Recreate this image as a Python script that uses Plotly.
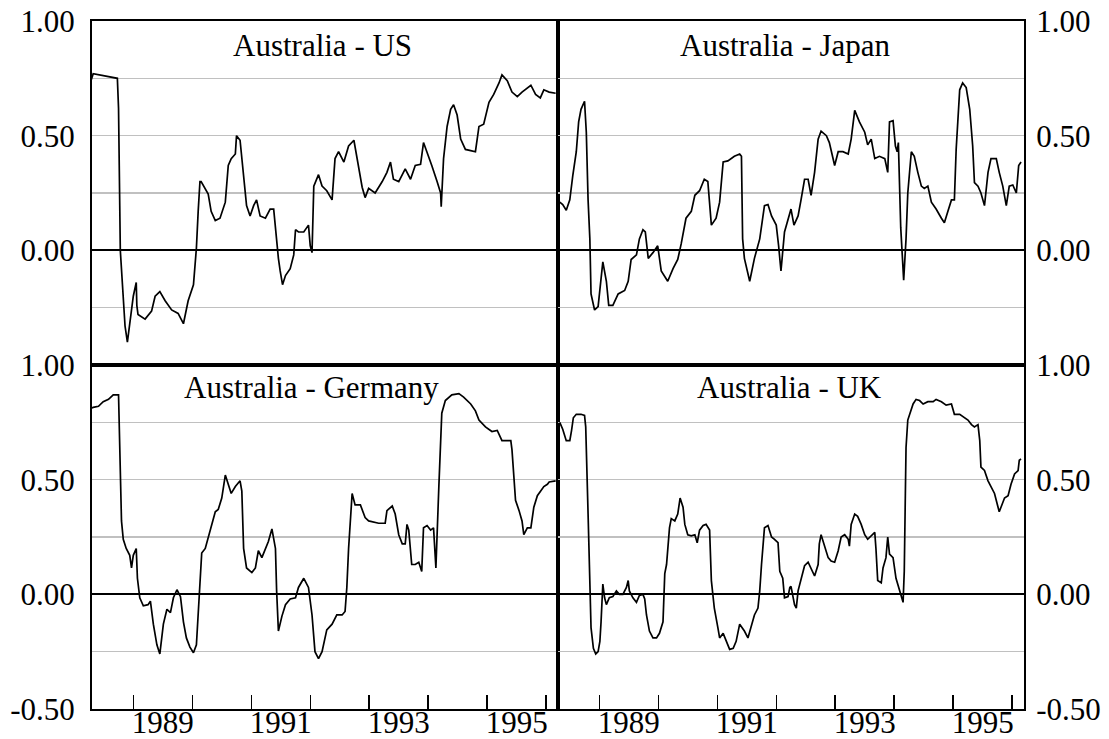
import plotly.graph_objects as go
from plotly.subplots import make_subplots

# ---------------- data (decimal years, correlation values) ----------------
us_t = [1988.27, 1988.32, 1988.73, 1988.75, 1988.78, 1988.80, 1988.83, 1988.86, 1988.90, 1988.97,
        1989.00, 1989.05, 1989.06, 1989.08, 1989.20, 1989.31, 1989.37, 1989.45, 1989.54, 1989.65,
        1989.76, 1989.85, 1989.93, 1990.02, 1990.07, 1990.10, 1990.13, 1990.15, 1990.22, 1990.27,
        1990.32, 1990.39, 1990.47, 1990.56, 1990.61, 1990.66, 1990.73, 1990.75, 1990.81, 1990.87,
        1990.92, 1990.98, 1991.04, 1991.09, 1991.15, 1991.24, 1991.32, 1991.38, 1991.42, 1991.44,
        1991.46, 1991.49, 1991.53, 1991.58, 1991.66, 1991.72, 1991.75, 1991.80, 1991.89, 1991.97,
        1992.00, 1992.03, 1992.06, 1992.14, 1992.20, 1992.28, 1992.37, 1992.42, 1992.48, 1992.57,
        1992.65, 1992.74, 1992.79, 1992.88, 1992.93, 1992.99, 1993.10, 1993.22, 1993.30, 1993.36,
        1993.41, 1993.50, 1993.61, 1993.70, 1993.78, 1993.87, 1993.92, 1993.98, 1994.06, 1994.15,
        1994.21, 1994.22, 1994.26, 1994.32, 1994.38, 1994.43, 1994.49, 1994.55, 1994.63, 1994.72,
        1994.80, 1994.86, 1994.94, 1995.03, 1995.11, 1995.20, 1995.25, 1995.34, 1995.42, 1995.51,
        1995.59, 1995.74, 1995.82, 1995.90, 1995.96, 1996.05, 1996.16]
us_v = [0.73, 0.77, 0.75, 0.62, 0.00, -0.08, -0.25, -0.33, -0.40, -0.24,
        -0.20, -0.14, -0.24, -0.28, -0.30, -0.265, -0.20, -0.18, -0.22, -0.26,
        -0.275, -0.32, -0.22, -0.15, 0.01, 0.17, 0.30, 0.30, 0.27, 0.245,
        0.17, 0.13, 0.14, 0.21, 0.37, 0.40, 0.42, 0.50, 0.48, 0.31,
        0.195, 0.15, 0.195, 0.22, 0.15, 0.14, 0.18, 0.18, 0.065, -0.01,
        -0.035, -0.09, -0.15, -0.11, -0.08, -0.02, 0.09, 0.08, 0.08, 0.11,
        0.02, -0.01, 0.28, 0.33, 0.28, 0.26, 0.22, 0.40, 0.43, 0.385,
        0.455, 0.48, 0.40, 0.275, 0.23, 0.27, 0.25, 0.30, 0.34, 0.385,
        0.31, 0.30, 0.355, 0.31, 0.37, 0.375, 0.47, 0.43, 0.37, 0.30,
        0.25, 0.19, 0.40, 0.54, 0.615, 0.635, 0.59, 0.485, 0.44, 0.435,
        0.43, 0.54, 0.55, 0.645, 0.68, 0.73, 0.765, 0.74, 0.69, 0.67,
        0.69, 0.72, 0.68, 0.665, 0.70, 0.69, 0.685]

jp_t = [1988.33, 1988.38, 1988.44, 1988.50, 1988.55, 1988.61, 1988.65, 1988.69, 1988.75, 1988.78,
        1988.81, 1988.84, 1988.86, 1988.92, 1988.98, 1989.02, 1989.06, 1989.12, 1989.16, 1989.23,
        1989.32, 1989.43, 1989.49, 1989.54, 1989.63, 1989.68, 1989.74, 1989.78, 1989.83, 1989.91,
        1989.99, 1990.05, 1990.16, 1990.25, 1990.33, 1990.39, 1990.47, 1990.56, 1990.62, 1990.70,
        1990.78, 1990.84, 1990.87, 1990.90, 1990.98, 1991.04, 1991.10, 1991.18, 1991.29, 1991.38,
        1991.41, 1991.43, 1991.46, 1991.55, 1991.63, 1991.72, 1991.80, 1991.86, 1991.92, 1992.00,
        1992.04, 1992.08, 1992.14, 1992.20, 1992.25, 1992.30, 1992.37, 1992.42, 1992.48, 1992.54,
        1992.59, 1992.65, 1992.71, 1992.76, 1992.85, 1992.90, 1992.96, 1992.99, 1993.05, 1993.13,
        1993.22, 1993.27, 1993.33, 1993.41, 1993.50, 1993.55, 1993.61, 1993.67, 1993.75, 1993.84,
        1993.89, 1993.92, 1993.98, 1994.02, 1994.05, 1994.07, 1994.11, 1994.16, 1994.20, 1994.23,
        1994.29, 1994.34, 1994.40, 1994.46, 1994.51, 1994.57, 1994.63, 1994.71, 1994.80, 1994.85,
        1994.91, 1994.97, 1995.02, 1995.05, 1995.11, 1995.16, 1995.22, 1995.28, 1995.33, 1995.36,
        1995.42, 1995.47, 1995.53, 1995.59, 1995.64, 1995.73, 1995.78, 1995.84, 1995.90, 1995.95,
        1996.01, 1996.07, 1996.11, 1996.15]
jp_v = [0.21, 0.20, 0.175, 0.22, 0.325, 0.43, 0.56, 0.615, 0.65, 0.515,
        0.22, 0.05, -0.19, -0.26, -0.245, -0.135, -0.05, -0.135, -0.24, -0.24,
        -0.19, -0.175, -0.135, -0.04, -0.02, 0.05, 0.09, 0.08, -0.035, -0.01,
        0.02, -0.09, -0.135, -0.08, -0.04, 0.03, 0.14, 0.17, 0.24, 0.26,
        0.31, 0.30, 0.22, 0.11, 0.14, 0.21, 0.385, 0.39, 0.41, 0.42,
        0.41, 0.05, -0.035, -0.135, -0.035, 0.05, 0.195, 0.20, 0.15, 0.11,
        0.02, -0.09, 0.08, 0.14, 0.18, 0.11, 0.15, 0.22, 0.31, 0.31,
        0.24, 0.34, 0.485, 0.52, 0.50, 0.47, 0.40, 0.37, 0.43, 0.43,
        0.42, 0.485, 0.61, 0.56, 0.515, 0.46, 0.485, 0.40, 0.41, 0.40,
        0.34, 0.56, 0.565, 0.455, 0.43, 0.47, 0.10, -0.13, 0.05, 0.25,
        0.43, 0.41, 0.34, 0.28, 0.27, 0.28, 0.21, 0.18, 0.14, 0.12,
        0.17, 0.22, 0.22, 0.44, 0.70, 0.73, 0.71, 0.615, 0.455, 0.295,
        0.28, 0.25, 0.195, 0.34, 0.40, 0.40, 0.34, 0.28, 0.195, 0.28,
        0.285, 0.25, 0.37, 0.385]

de_t = [1988.27, 1988.32, 1988.41, 1988.49, 1988.58, 1988.66, 1988.75, 1988.77, 1988.78, 1988.80,
        1988.83, 1988.88, 1988.94, 1988.97, 1989.00, 1989.05, 1989.07, 1989.11, 1989.17, 1989.25,
        1989.29, 1989.34, 1989.40, 1989.45, 1989.51, 1989.57, 1989.63, 1989.68, 1989.74, 1989.80,
        1989.85, 1989.90, 1989.96, 1990.02, 1990.07, 1990.10, 1990.16, 1990.22, 1990.27, 1990.33,
        1990.39, 1990.44, 1990.50, 1990.56, 1990.66, 1990.73, 1990.81, 1990.84, 1990.87, 1990.92,
        1991.01, 1991.07, 1991.12, 1991.18, 1991.24, 1991.29, 1991.35, 1991.41, 1991.43, 1991.46,
        1991.52, 1991.58, 1991.66, 1991.75, 1991.80, 1991.89, 1991.97, 1992.03, 1992.08, 1992.14,
        1992.20, 1992.28, 1992.37, 1992.45, 1992.54, 1992.59, 1992.62, 1992.65, 1992.71, 1992.76,
        1992.85, 1992.93, 1992.99, 1993.16, 1993.27, 1993.30, 1993.39, 1993.44, 1993.50, 1993.56,
        1993.61, 1993.64, 1993.67, 1993.72, 1993.78, 1993.84, 1993.89, 1993.92, 1993.98, 1994.04,
        1994.09, 1994.13, 1994.18, 1994.22, 1994.23, 1994.29, 1994.40, 1994.52, 1994.60, 1994.72,
        1994.80, 1994.86, 1994.97, 1995.08, 1995.17, 1995.25, 1995.34, 1995.40, 1995.42, 1995.45,
        1995.48, 1995.54, 1995.59, 1995.62, 1995.68, 1995.74, 1995.76, 1995.79, 1995.85, 1995.90,
        1995.96, 1996.02, 1996.05, 1996.16]
de_v = [0.81, 0.815, 0.82, 0.84, 0.85, 0.87, 0.87, 0.67, 0.45, 0.32,
        0.24, 0.20, 0.17, 0.115, 0.17, 0.20, 0.07, -0.015, -0.05, -0.045,
        -0.03, -0.13, -0.22, -0.26, -0.13, -0.065, -0.08, -0.015, 0.02, -0.01,
        -0.12, -0.19, -0.23, -0.255, -0.22, -0.09, 0.18, 0.20, 0.25, 0.30,
        0.36, 0.37, 0.42, 0.52, 0.44, 0.47, 0.495, 0.45, 0.20, 0.115,
        0.095, 0.115, 0.19, 0.16, 0.20, 0.23, 0.285, 0.20, 0.015, -0.16,
        -0.095, -0.045, -0.02, -0.015, 0.03, 0.07, 0.03, -0.09, -0.25, -0.28,
        -0.25, -0.155, -0.13, -0.09, -0.09, -0.075, 0.03, 0.20, 0.44, 0.39,
        0.39, 0.335, 0.32, 0.31, 0.31, 0.365, 0.385, 0.35, 0.26, 0.22,
        0.22, 0.305, 0.28, 0.13, 0.13, 0.14, 0.10, 0.29, 0.30, 0.28,
        0.29, 0.115, 0.47, 0.70, 0.79, 0.845, 0.87, 0.875, 0.86, 0.83,
        0.80, 0.76, 0.73, 0.71, 0.715, 0.67, 0.67, 0.67, 0.63, 0.50,
        0.41, 0.365, 0.32, 0.26, 0.29, 0.29, 0.32, 0.38, 0.43, 0.45,
        0.47, 0.48, 0.49, 0.495]

uk_t = [1988.33, 1988.38, 1988.44, 1988.50, 1988.53, 1988.56, 1988.61, 1988.69, 1988.75, 1988.77,
        1988.81, 1988.84, 1988.86, 1988.90, 1988.94, 1988.98, 1989.01, 1989.03, 1989.06, 1989.09,
        1989.12, 1989.17, 1989.23, 1989.29, 1989.34, 1989.40, 1989.46, 1989.49, 1989.51, 1989.57,
        1989.63, 1989.68, 1989.74, 1989.77, 1989.80, 1989.85, 1989.91, 1989.97, 1990.02, 1990.08,
        1990.11, 1990.14, 1990.16, 1990.19, 1990.22, 1990.28, 1990.33, 1990.37, 1990.42, 1990.45,
        1990.50, 1990.56, 1990.62, 1990.66, 1990.70, 1990.76, 1990.81, 1990.87, 1990.90, 1990.95,
        1991.01, 1991.04, 1991.10, 1991.15, 1991.21, 1991.27, 1991.32, 1991.38, 1991.46, 1991.52,
        1991.58, 1991.63, 1991.69, 1991.72, 1991.75, 1991.80, 1991.86, 1991.92, 1991.97, 1992.03,
        1992.06, 1992.11, 1992.14, 1992.20, 1992.23, 1992.25, 1992.31, 1992.34, 1992.37, 1992.42,
        1992.48, 1992.54, 1992.59, 1992.65, 1992.71, 1992.73, 1992.76, 1992.82, 1992.88, 1992.93,
        1992.99, 1993.05, 1993.10, 1993.16, 1993.22, 1993.24, 1993.27, 1993.33, 1993.38, 1993.44,
        1993.50, 1993.55, 1993.61, 1993.67, 1993.69, 1993.72, 1993.78, 1993.81, 1993.86, 1993.89,
        1993.92, 1993.98, 1994.03, 1994.09, 1994.12, 1994.15, 1994.17, 1994.19, 1994.20, 1994.23,
        1994.26, 1994.32, 1994.37, 1994.43, 1994.49, 1994.57, 1994.66, 1994.71, 1994.80, 1994.88,
        1994.97, 1995.02, 1995.11, 1995.19, 1995.25, 1995.31, 1995.36, 1995.42, 1995.45, 1995.47,
        1995.53, 1995.59, 1995.64, 1995.70, 1995.76, 1995.78, 1995.81, 1995.87, 1995.93, 1995.98,
        1996.04, 1996.10, 1996.12, 1996.15]
uk_v = [0.75, 0.72, 0.67, 0.67, 0.715, 0.77, 0.785, 0.785, 0.78, 0.73,
        0.35, 0.07, -0.145, -0.235, -0.26, -0.25, -0.205, -0.12, 0.045, -0.015,
        -0.045, -0.015, -0.01, 0.015, 0.00, 0.00, 0.03, 0.06, 0.015, -0.015,
        -0.035, -0.005, 0.00, -0.02, -0.09, -0.16, -0.19, -0.19, -0.17, -0.12,
        0.09, 0.13, 0.20, 0.29, 0.33, 0.32, 0.35, 0.42, 0.38, 0.305,
        0.26, 0.255, 0.26, 0.225, 0.28, 0.30, 0.305, 0.28, 0.06, -0.06,
        -0.145, -0.19, -0.17, -0.205, -0.24, -0.235, -0.205, -0.13, -0.16, -0.19,
        -0.13, -0.09, -0.06, 0.015, 0.13, 0.29, 0.30, 0.25, 0.24, 0.225,
        0.10, 0.07, -0.015, -0.01, 0.03, 0.035, -0.045, -0.06, 0.015, 0.07,
        0.125, 0.14, 0.115, 0.08, 0.13, 0.22, 0.26, 0.21, 0.16, 0.145,
        0.14, 0.19, 0.25, 0.26, 0.24, 0.21, 0.305, 0.35, 0.34, 0.305,
        0.26, 0.24, 0.255, 0.27, 0.20, 0.06, 0.05, 0.115, 0.16, 0.25,
        0.175, 0.16, 0.07, 0.02, -0.01, -0.035, 0.10, 0.42, 0.64, 0.76,
        0.785, 0.83, 0.85, 0.845, 0.83, 0.84, 0.84, 0.85, 0.84, 0.825,
        0.83, 0.785, 0.785, 0.77, 0.76, 0.74, 0.73, 0.74, 0.67, 0.555,
        0.54, 0.495, 0.47, 0.44, 0.38, 0.36, 0.38, 0.42, 0.43, 0.48,
        0.525, 0.54, 0.585, 0.59]

panel_titles = ["Australia - US", "Australia - Japan", "Australia - Germany", "Australia - UK"]
year_tick_vals = [1989, 1990, 1991, 1992, 1993, 1994, 1995, 1996]
year_label_vals = [1989.5, 1991.5, 1993.5, 1995.5]
year_label_text = ["1989", "1991", "1993", "1995"]
y_tick_vals = [-0.5, -0.25, 0.0, 0.25, 0.5, 0.75, 1.0]
y_text_top = ["", "", "0.00", "", "0.50", "", "1.00"]
y_text_bottom = ["-0.50", "", "0.00", "", "0.50", "", "1.00"]

# ---------------- figure ----------------
FONT = "Liberation Serif, Times New Roman, serif"
FS = 31

fig = make_subplots(rows=2, cols=2, horizontal_spacing=0, vertical_spacing=0)

series = [(us_t, us_v, 1, 1), (jp_t, jp_v, 1, 2), (de_t, de_v, 2, 1), (uk_t, uk_v, 2, 2)]
for t, v, r, c in series:
    fig.add_trace(go.Scatter(x=t, y=v, mode="lines",
                             line=dict(color="black", width=1.7),
                             showlegend=False, hoverinfo="skip"),
                  row=r, col=c)

X_RANGE = [1988.30, 1996.20]
for r in (1, 2):
    for c in (1, 2):
        xa = dict(range=X_RANGE, showline=True, linecolor="black", linewidth=2,
                  mirror=True, showgrid=False, zeroline=False, automargin=False,
                  ticklabeloverflow="allow")
        if r == 2:
            xa.update(tickmode="array", tickvals=year_label_vals, ticktext=year_label_text,
                      ticks="", showticklabels=True, ticklabelstandoff=-15,
                      tickfont=dict(family=FONT, size=FS, color="black"),
                      minor=dict(tickmode="array", tickvals=year_tick_vals, ticks="inside",
                                 ticklen=14, tickwidth=1.5, tickcolor="black", showgrid=False))
        else:
            xa.update(showticklabels=False, ticks="")
        fig.update_xaxes(row=r, col=c, **xa)

        ya = dict(range=[-0.5, 1.0], showline=True, linecolor="black", linewidth=2,
                  mirror=True, tickmode="array", tickvals=y_tick_vals,
                  ticktext=y_text_top if r == 1 else y_text_bottom,
                  ticks="", showgrid=True, gridcolor="#c0c0c0", gridwidth=1.5,
                  zeroline=True, zerolinecolor="black", zerolinewidth=2,
                  side="left" if c == 1 else "right", automargin=False,
                  ticklabeloverflow="allow",
                  tickfont=dict(family=FONT, size=FS, color="black"),
                  ticklabelstandoff=9 if c == 1 else 4)
        fig.update_yaxes(row=r, col=c, **ya)

# panel titles
title_pos = [(0.2468, 0.965), (0.7446, 0.965), (0.235, 0.468), (0.748, 0.468)]
for name, (px, py) in zip(panel_titles, title_pos):
    fig.add_annotation(text=name, x=px, y=py, xref="paper", yref="paper",
                       xanchor="center", yanchor="middle", showarrow=False,
                       font=dict(family=FONT, size=FS, color="black"))

fig.update_layout(width=1109, height=739,
                  margin=dict(l=92, r=85, t=21, b=30, autoexpand=False),
                  paper_bgcolor="white", plot_bgcolor="white",
                  font=dict(family=FONT, size=FS, color="black"))

# remove the default 8px page margin so the figure fills the window exactly
fig.write_html("out.html",
               config={"displayModeBar": False, "staticPlot": True},
               post_script="document.body.style.margin='0';document.body.style.overflow='hidden';")
